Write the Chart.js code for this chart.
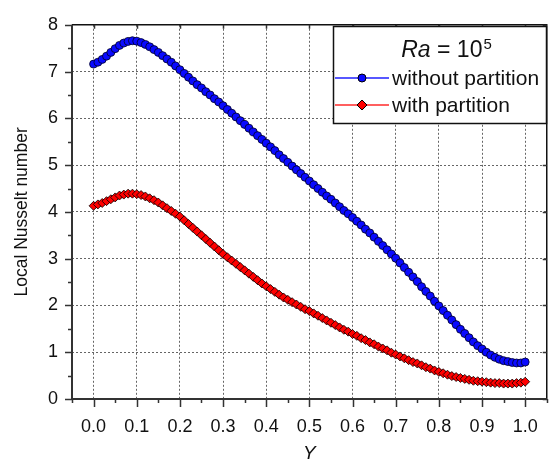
<!DOCTYPE html>
<html>
<head>
<meta charset="utf-8">
<title>Local Nusselt number</title>
<script src="https://cdn.jsdelivr.net/npm/chart.js@4/dist/chart.umd.min.js"></script>
<style>
  html, body { margin: 0; padding: 0; background: #fff; }
  #wrap { width: 555px; height: 467px; }
</style>
</head>
<body>
<div id="wrap"><canvas id="canvas" width="555" height="467"></canvas></div>
<script>
// position along the wall
var Y_POS = [
  0.00, 0.01, 0.02, 0.03, 0.04, 0.05, 0.06, 0.07, 0.08, 0.09,
  0.10, 0.11, 0.12, 0.13, 0.14, 0.15, 0.16, 0.17, 0.18, 0.19,
  0.20, 0.21, 0.22, 0.23, 0.24, 0.25, 0.26, 0.27, 0.28, 0.29,
  0.30, 0.31, 0.32, 0.33, 0.34, 0.35, 0.36, 0.37, 0.38, 0.39,
  0.40, 0.41, 0.42, 0.43, 0.44, 0.45, 0.46, 0.47, 0.48, 0.49,
  0.50, 0.51, 0.52, 0.53, 0.54, 0.55, 0.56, 0.57, 0.58, 0.59,
  0.60, 0.61, 0.62, 0.63, 0.64, 0.65, 0.66, 0.67, 0.68, 0.69,
  0.70, 0.71, 0.72, 0.73, 0.74, 0.75, 0.76, 0.77, 0.78, 0.79,
  0.80, 0.81, 0.82, 0.83, 0.84, 0.85, 0.86, 0.87, 0.88, 0.89,
  0.90, 0.91, 0.92, 0.93, 0.94, 0.95, 0.96, 0.97, 0.98, 0.99,
  1.00
];

// Nu without partition
var NU_NO_PART = [
  7.16, 7.20, 7.26, 7.33, 7.41, 7.49, 7.56, 7.61, 7.645, 7.66,
  7.65, 7.62, 7.58, 7.53, 7.47, 7.41, 7.34, 7.27, 7.20, 7.12,
  7.04, 6.96, 6.88, 6.80, 6.72, 6.65, 6.57, 6.50, 6.42, 6.35,
  6.27, 6.19, 6.11, 6.03, 5.95, 5.87, 5.79, 5.71, 5.63, 5.55,
  5.47, 5.39, 5.31, 5.22, 5.14, 5.06, 4.98, 4.90, 4.82, 4.74,
  4.66, 4.58, 4.50, 4.42, 4.34, 4.27, 4.19, 4.11, 4.03, 3.96,
  3.88, 3.80, 3.72, 3.63, 3.55, 3.46, 3.37, 3.28, 3.19, 3.10,
  3.01, 2.91, 2.81, 2.71, 2.61, 2.51, 2.40, 2.30, 2.20, 2.09,
  1.99, 1.89, 1.79, 1.69, 1.59, 1.49, 1.40, 1.31, 1.22, 1.14,
  1.07, 1.00, 0.94, 0.89, 0.85, 0.82, 0.80, 0.78, 0.77, 0.77,
  0.79
];

// Nu with partition
var NU_PART = [
  4.13, 4.16, 4.19, 4.23, 4.27, 4.31, 4.35, 4.37, 4.39, 4.39,
  4.38, 4.36, 4.33, 4.29, 4.25, 4.20, 4.14, 4.08, 4.02, 3.96,
  3.90, 3.82, 3.74, 3.66, 3.58, 3.50, 3.42, 3.34, 3.26, 3.18,
  3.10, 3.03, 2.96, 2.89, 2.82, 2.75, 2.68, 2.61, 2.54, 2.47,
  2.41, 2.35, 2.29, 2.23, 2.17, 2.12, 2.07, 2.02, 1.97, 1.92,
  1.88, 1.83, 1.78, 1.73, 1.68, 1.63, 1.58, 1.53, 1.48, 1.44,
  1.39, 1.35, 1.30, 1.26, 1.21, 1.17, 1.12, 1.08, 1.04, 0.99,
  0.95, 0.91, 0.87, 0.83, 0.79, 0.76, 0.72, 0.68, 0.65, 0.61,
  0.58, 0.55, 0.52, 0.49, 0.47, 0.45, 0.43, 0.41, 0.39, 0.38,
  0.37, 0.36, 0.35, 0.34, 0.34, 0.33, 0.33, 0.33, 0.34, 0.35,
  0.37
];

var X_TICKS = [0, 0.1, 0.2, 0.3, 0.4, 0.5, 0.6, 0.7, 0.8, 0.9, 1.0];
var Y_TICKS = [0, 1, 2, 3, 4, 5, 6, 7, 8];
var SERIES_NAMES = ['without partition', 'with partition'];
var KEY_COLORS = ['#1f1fff', '#ff2a2a'];

var FONT = '"Liberation Sans", Arial, sans-serif';

function toPoints(vals) {
  return Y_POS.map(function (x, i) { return { x: x, y: vals[i] }; });
}

// axis lines, tick marks and closing frame
var axesPlugin = {
  id: 'axesFrame',
  afterDraw: function (chart) {
    var ctx = chart.ctx, a = chart.chartArea;
    var xs = chart.scales.x, ys = chart.scales.y;
    ctx.save();
    ctx.strokeStyle = '#111';
    ctx.lineWidth = 1.5;
    ctx.beginPath();
    ctx.moveTo(a.left, a.top); ctx.lineTo(a.right, a.top); ctx.lineTo(a.right, a.bottom);
    ctx.stroke();

    ctx.strokeStyle = '#333';
    ctx.lineWidth = 2;
    ctx.beginPath();
    ctx.moveTo(a.left, a.top); ctx.lineTo(a.left, a.bottom); ctx.lineTo(a.right, a.bottom);
    ctx.stroke();

    ctx.lineWidth = 1.5;
    ctx.beginPath();
    var v, p;
    for (v = -0.05; v <= 1.0501; v += 0.05) {
      p = Math.round(xs.getPixelForValue(v)) + 0.5;
      var major = Math.abs(v * 10 - Math.round(v * 10)) < 0.01;
      ctx.moveTo(p, a.bottom); ctx.lineTo(p, a.bottom + (major ? 8 : 4));
      if (major) { ctx.moveTo(p, a.top); ctx.lineTo(p, a.top + 4); }
    }
    for (v = 0; v <= 8.001; v += 0.5) {
      p = Math.round(ys.getPixelForValue(v)) + 0.5;
      var maj = Math.abs(v - Math.round(v)) < 0.01;
      ctx.moveTo(a.left, p); ctx.lineTo(a.left - (maj ? 7 : 4), p);
      if (maj) { ctx.moveTo(a.right, p); ctx.lineTo(a.right - 4, p); }
    }
    ctx.stroke();
    ctx.restore();
  }
};

// boxed legend with the Rayleigh number heading
var legendPlugin = {
  id: 'raLegend',
  afterDraw: function (chart) {
    var ctx = chart.ctx;
    var bx = 333, by = 26, bw = 213, bh = 97;
    ctx.save();
    ctx.fillStyle = '#fff';
    ctx.fillRect(bx, by, bw, bh);
    ctx.strokeStyle = '#111';
    ctx.lineWidth = 1.5;
    ctx.strokeRect(bx + 0.5, by + 0.5, bw, bh);

    // heading: Ra = 10^5
    ctx.fillStyle = '#111';
    ctx.textBaseline = 'alphabetic';
    var f1 = 'italic 23px ' + FONT, f2 = '23px ' + FONT, f3 = '15px ' + FONT;
    ctx.font = f1; var w1 = ctx.measureText('Ra').width;
    ctx.font = f2; var w2 = ctx.measureText(' = 10').width;
    ctx.font = f3; var w3 = ctx.measureText('5').width;
    var tx = 446 - (w1 + w2 + w3) / 2, ty = 57;
    ctx.font = f1; ctx.fillText('Ra', tx, ty);
    ctx.font = f2; ctx.fillText(' = 10', tx + w1, ty);
    ctx.font = f3; ctx.fillText('5', tx + w1 + w2 + 1, ty - 8);

    var rows = [78, 105];
    chart.data.datasets.forEach(function (ds, i) {
      var ry = rows[i];
      ctx.strokeStyle = KEY_COLORS[i];
      ctx.lineWidth = 1.5;
      ctx.beginPath();
      ctx.moveTo(bx + 2, ry); ctx.lineTo(bx + 56, ry);
      ctx.stroke();
      ctx.fillStyle = ds.pointBackgroundColor;
      ctx.strokeStyle = '#000';
      ctx.lineWidth = 1;
      ctx.beginPath();
      if (ds.pointStyle === 'circle') {
        ctx.arc(bx + 29, ry, 4, 0, Math.PI * 2);
      } else {
        ctx.moveTo(bx + 29, ry - 5); ctx.lineTo(bx + 34, ry);
        ctx.lineTo(bx + 29, ry + 5); ctx.lineTo(bx + 24, ry); ctx.closePath();
      }
      ctx.fill(); ctx.stroke();
      ctx.fillStyle = '#111';
      ctx.font = '21px ' + FONT;
      ctx.textBaseline = 'middle';
      ctx.fillText(SERIES_NAMES[i], bx + 59, ry + 1);
    });
    ctx.restore();
  }
};

new Chart(document.getElementById('canvas').getContext('2d'), {
  type: 'scatter',
  data: {
    datasets: [
      {
        label: SERIES_NAMES[0],
        data: toPoints(NU_NO_PART),
        showLine: true,
        borderColor: '#0000d0',
        borderWidth: 6,
        pointStyle: 'circle',
        pointRadius: 4,
        pointBackgroundColor: '#0a0aff',
        pointBorderColor: '#000022',
        pointBorderWidth: 0.8
      },
      {
        label: SERIES_NAMES[1],
        data: toPoints(NU_PART),
        showLine: true,
        borderColor: '#c00000',
        borderWidth: 6,
        pointStyle: 'rectRot',
        pointRadius: 4.5,
        pointBackgroundColor: '#ff0000',
        pointBorderColor: '#000000',
        pointBorderWidth: 0.8
      }
    ]
  },
  options: {
    responsive: false,
    animation: false,
    devicePixelRatio: 1,
    layout: { padding: { left: 0, top: 20, right: 7, bottom: 0 } },
    plugins: { legend: { display: false }, tooltip: { enabled: false } },
    scales: {
      x: {
        type: 'linear',
        min: -0.05,
        max: 1.05,
        afterBuildTicks: function (s) { s.ticks = X_TICKS.map(function (v) { return { value: v }; }); },
        afterFit: function (s) { s.height = 68; },
        ticks: {
          callback: function (v) { return v.toFixed(1); },
          font: { family: FONT, size: 18 },
          color: '#111',
          padding: 17,
          maxRotation: 0,
          autoSkip: false
        },
        grid: { color: '#666', lineWidth: 1, drawTicks: false },
        border: { display: false, dash: [2, 2] },
        title: {
          display: true,
          text: 'Y',
          font: { family: FONT, size: 19, style: 'italic' },
          color: '#111',
          padding: { top: 0, bottom: 2 }
        }
      },
      y: {
        min: 0,
        max: 8,
        afterBuildTicks: function (s) { s.ticks = Y_TICKS.map(function (v) { return { value: v }; }); },
        afterFit: function (s) { s.width = 72; },
        ticks: {
          font: { family: FONT, size: 18 },
          color: '#111',
          padding: 14
        },
        grid: { color: '#666', lineWidth: 1, drawTicks: false },
        border: { display: false, dash: [2, 2] },
        title: {
          display: true,
          text: 'Local Nusselt number',
          font: { family: FONT, size: 17.5 },
          color: '#111',
          padding: { top: 12, bottom: 0 }
        }
      }
    }
  },
  plugins: [axesPlugin, legendPlugin]
});
</script>
</body>
</html>
